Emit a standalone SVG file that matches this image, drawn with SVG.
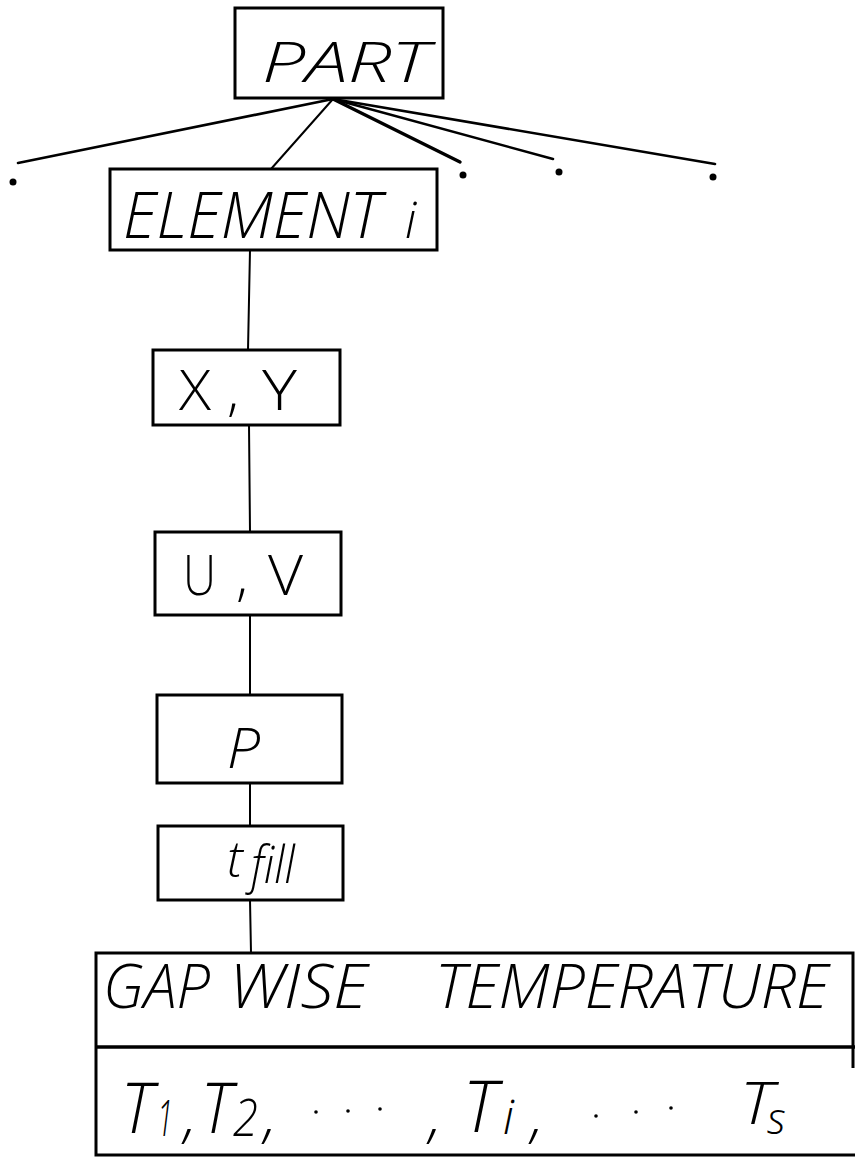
<svg xmlns="http://www.w3.org/2000/svg" width="855" height="1157" viewBox="0 0 855 1157">
  <style>
    .box { fill: none; stroke: #000; stroke-width: 3; stroke-linejoin: miter; }
    .rule { fill: none; stroke: #000; stroke-width: 3.5; }
    .link { fill: none; stroke: #000; stroke-width: 2; stroke-linecap: round; }
    .fan { fill: none; stroke: #000; stroke-width: 2.6; stroke-linecap: round; }
    .dot { fill: #000; }
    .lbl { font-family: "Open Sans", "Liberation Sans", Arial, sans-serif; font-weight: 300; fill: #000; }
    .it { font-style: italic; }
  </style>
  <rect width="855" height="1157" fill="#fff"/>

  <!-- connectors -->
  <g id="connectors">
    <line class="fan" x1="333" y1="99" x2="18" y2="163"/>
    <line class="link" x1="333" y1="99" x2="271" y2="169"/>
    <line class="fan" x1="333" y1="99" x2="460" y2="162" style="stroke-width:3.4"/>
    <line class="fan" x1="333" y1="99" x2="553" y2="159"/>
    <line class="fan" x1="333" y1="99" x2="715" y2="164"/>
    <circle class="dot" cx="13" cy="182" r="3.5"/>
    <circle class="dot" cx="463" cy="175" r="3.5"/>
    <circle class="dot" cx="559" cy="172" r="3.5"/>
    <circle class="dot" cx="713" cy="177" r="3.5"/>
    <line class="link" x1="250" y1="250" x2="248" y2="350"/>
    <line class="link" x1="249" y1="425" x2="250" y2="532"/>
    <line class="link" x1="250" y1="615" x2="250" y2="695"/>
    <line class="link" x1="250" y1="783" x2="250" y2="826"/>
    <line class="link" x1="250" y1="900" x2="251" y2="953"/>
  </g>

  <g id="part">
    <rect class="box" x="235" y="8" width="208" height="90"/>
    <text class="lbl it" x="262" y="82" font-size="56" textLength="167" lengthAdjust="spacingAndGlyphs">PART</text>
  </g>

  <g id="element">
    <rect class="box" x="110" y="169" width="327" height="81"/>
    <text class="lbl it" x="123" y="238" font-size="64" textLength="258" lengthAdjust="spacingAndGlyphs">ELEMENT</text>
    <text class="lbl it" x="405" y="238" font-size="50">i</text>
  </g>

  <g id="xy">
    <rect class="box" x="153" y="350" width="187" height="75"/>
    <text class="lbl" x="179" y="410" font-size="56" textLength="32" lengthAdjust="spacingAndGlyphs">X</text>
    <text class="lbl" x="227" y="410" font-size="56">,</text>
    <text class="lbl" x="262" y="410" font-size="56" textLength="35" lengthAdjust="spacingAndGlyphs">Y</text>
  </g>

  <g id="uv">
    <rect class="box" x="155" y="532" width="186" height="83"/>
    <text class="lbl" x="183" y="595" font-size="56" textLength="33" lengthAdjust="spacingAndGlyphs">U</text>
    <text class="lbl" x="236" y="595" font-size="56">,</text>
    <text class="lbl" x="268" y="595" font-size="56" textLength="35" lengthAdjust="spacingAndGlyphs">V</text>
  </g>

  <g id="p">
    <rect class="box" x="157" y="695" width="185" height="88"/>
    <text class="lbl it" x="227" y="768" font-size="56" textLength="33" lengthAdjust="spacingAndGlyphs">P</text>
  </g>

  <g id="tfill">
    <rect class="box" x="158" y="826" width="185" height="74"/>
    <text class="lbl it" x="227" y="877" font-size="50">t</text>
    <text class="lbl it" x="251" y="883" font-size="52" textLength="44" lengthAdjust="spacingAndGlyphs">fill</text>
  </g>

  <g id="gapwise">
    <polyline class="box" points="96,1047 96,953 853,953 853,1068"/>
    <line class="rule" x1="96" y1="1047" x2="855" y2="1047"/>
    <polyline class="box" points="96,1047 96,1155 855,1155"/>
    <text class="lbl it" x="103" y="1008" font-size="60" textLength="107" lengthAdjust="spacingAndGlyphs">GAP</text>
    <text class="lbl it" x="229" y="1008" font-size="60" textLength="139" lengthAdjust="spacingAndGlyphs">WISE</text>
    <text class="lbl it" x="435" y="1008" font-size="60" textLength="394" lengthAdjust="spacingAndGlyphs">TEMPERATURE</text>

    <!-- T1, T2, ..., Ti, ... Ts -->
    <g class="lbl it">
      <text x="121" y="1133" font-size="70" textLength="32" lengthAdjust="spacingAndGlyphs">T</text>
      <text x="157" y="1136" font-size="50" textLength="16" lengthAdjust="spacingAndGlyphs">1</text>
      <text x="184" y="1136" font-size="60">,</text>
      <text x="201" y="1133" font-size="70" textLength="31" lengthAdjust="spacingAndGlyphs">T</text>
      <text x="233" y="1136" font-size="52" textLength="25" lengthAdjust="spacingAndGlyphs">2</text>
      <text x="264" y="1136" font-size="60">,</text>
      <text x="429" y="1136" font-size="60">,</text>
      <text x="463" y="1132" font-size="72" textLength="34" lengthAdjust="spacingAndGlyphs">T</text>
      <text x="503" y="1134" font-size="48">i</text>
      <text x="531" y="1136" font-size="60">,</text>
      <text x="740" y="1124" font-size="58" textLength="33" lengthAdjust="spacingAndGlyphs">T</text>
      <text x="767" y="1134" font-size="44">s</text>
    </g>
    <circle class="dot" cx="316" cy="1112" r="1.8"/>
    <circle class="dot" cx="348" cy="1111" r="1.8"/>
    <circle class="dot" cx="380" cy="1109" r="1.8"/>
    <circle class="dot" cx="596" cy="1116" r="1.8"/>
    <circle class="dot" cx="636" cy="1112" r="1.8"/>
    <circle class="dot" cx="671" cy="1108" r="1.8"/>
  </g>
</svg>
